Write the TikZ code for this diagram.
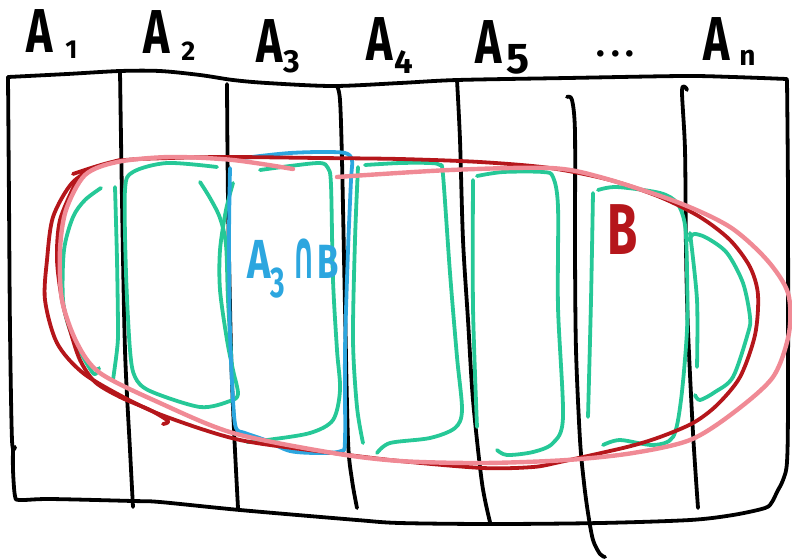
\documentclass[tikz,border=0pt]{standalone}
\usepackage{fontspec}
\setmainfont{Fira Sans}
\newfontfamily\djv{DejaVu Sans}
\usepackage{graphicx}
\definecolor{grn}{HTML}{26C897}
\definecolor{bred}{HTML}{B5161B}
\definecolor{pnk}{HTML}{F08A95}
\definecolor{blu}{HTML}{2CA6DF}
\newcommand\bigA{\scalebox{0.72}[1]{\fontsize{62}{62}\selectfont\bfseries A}}
\newcommand\subtxt[2]{{\fontsize{#1}{#1}\selectfont\bfseries #2}}
\tikzset{
  ink/.style={line width=3.8pt, line cap=round, line join=round},
  blk/.style={ink, draw=black},
  gstroke/.style={ink, draw=grn},
  rstroke/.style={ink, draw=bred},
  pstroke/.style={ink, line width=4.4pt, draw=pnk},
  bstroke/.style={ink, draw=blu},
  lab/.style={inner sep=0pt, outer sep=0pt, anchor=base west, text=black},
}
\begin{document}
\begin{tikzpicture}[x=1pt,y=-1pt]
\useasboundingbox (0,0) rectangle (792,558);
% ---- outer frame
\draw[blk] plot[smooth] coordinates {(8,77) (67,74) (120,71) (160,71) (200,75) (233,80) (267,83) (333,86) (400,83) (457,80) (567,78) (683,76) (733,77) (787,79)};
\draw[blk] plot[smooth] coordinates {(787,80) (788,200) (788,400) (787,462) (783,480) (777,492) (772,502) (765,508) (733,515) (690,520) (600,523) (493,524) (400,523) (357,520) (240,510) (160,502) (133,501) (50,499) (20,500) (15,496) (13,470) (13,447)};
\draw[blk] plot[smooth] coordinates {(8,77) (9,200) (10,330) (12,440) (15,447)};
% ---- column dividers
\draw[blk] plot[smooth] coordinates {(120,71) (122,200) (125,350) (130,450) (133,507)};
\draw[blk] plot[smooth] coordinates {(227,84) (228,200) (231,350) (234,430) (238,508)};
\draw[blk] plot[smooth] coordinates {(337,86) (340,100) (342,160) (345,307) (348,440) (352,480) (357,508)};
\draw[blk] plot[smooth] coordinates {(457,80) (460,140) (463,240) (468,320) (473,400) (482,483) (490,522)};
\draw[blk] plot[smooth] coordinates {(567,97) (572,100) (575,133) (575,250) (576,350) (580,440) (584,483) (588,513) (593,540) (600,554) (605,557)};
\draw[blk] plot[smooth] coordinates {(687,90) (685,87) (682,92) (685,150) (686,250) (688,330) (693,433) (698,508)};
% ---- labels
\node[lab] (la1) at (26,52) {\bigA\hspace{13pt}\raisebox{-6pt}{\subtxt{26}{1}}};
\node[lab] (la2) at (143,53) {\bigA\hspace{12pt}\raisebox{-7pt}{\subtxt{27}{2}}};
\node[lab] (la3) at (256,62) {\bigA\hspace{1pt}\raisebox{-10pt}{\subtxt{32}{3}}};
\node[lab] (la4) at (366,60) {\bigA\hspace{2pt}\raisebox{-13pt}{\subtxt{33}{4}}};
\node[lab] (la5) at (475,63) {\bigA\hspace{5pt}\raisebox{-10pt}{\subtxt{43}{5}}};
\node[lab] (ldots) at (596,56) {\subtxt{36}{.\hspace{7pt}.\hspace{5pt}.}};
\node[lab] (lan) at (703,60) {\bigA\hspace{10pt}\raisebox{-5pt}{\subtxt{28}{n}}};
% ---- green regions
\draw[gstroke] plot[smooth] coordinates {(101,188) (85,200) (73,217) (64,250) (63,300) (70,330) (82,355) (94,374) (99,368)};
\draw[gstroke] plot[smooth] coordinates {(115,187) (117,260) (118,330) (117,350) (113,380)};
\draw[gstroke] plot[smooth] coordinates {(217,167) (167,163) (133,172) (125,190) (126,273) (130,350) (135,377) (150,391) (200,407) (230,401) (238,394) (233,370) (227,340) (220,290) (220,250) (226,210) (233,183)};
\draw[gstroke] plot[smooth] coordinates {(200,182) (210,198) (220,218) (226,245) (228,300) (232,370)};
\draw[gstroke] plot[smooth] coordinates {(260,170) (290,166) (320,163) (328,168) (331,185) (333,280) (337,350) (340,390) (333,420) (310,433) (267,440) (247,442)};
\draw[gstroke] plot[smooth] coordinates {(358,167) (355,240) (353,340) (357,407) (363,443)};
\draw[gstroke] plot[smooth] coordinates {(365,165) (400,163) (430,163) (440,165) (443,175) (450,273) (457,357) (462,410) (455,428) (430,438) (390,443) (377,453)};
\draw[gstroke] plot[smooth] coordinates {(473,180) (473,307) (477,427)};
\draw[gstroke] plot[smooth] coordinates {(477,176) (503,172) (543,172) (553,177) (558,207) (558,307) (563,417) (553,443) (533,452) (507,455) (497,450)};
\draw[gstroke] plot[smooth] coordinates {(593,193) (591,300) (588,417)};
\draw[gstroke] plot[smooth] coordinates {(598,190) (617,187) (660,193) (677,203) (685,225) (687,270) (687,330) (681,400) (673,437) (653,445) (620,440) (603,445)};
\draw[gstroke] plot[smooth] coordinates {(690,233) (697,300) (697,367)};
\draw[gstroke] plot[smooth] coordinates {(689,240) (694,234) (707,238) (727,253) (743,283) (750,317) (748,333) (733,377) (715,392) (700,400) (695,395)};
% ---- blue A3 cap B
\draw[bstroke] plot[smooth] coordinates {(229,160) (260,156) (290,153) (320,152) (345,153) (352,160) (351,180) (348,250) (345,350) (345,440) (341,451) (320,453) (290,451) (265,440) (245,433) (236,428) (233,400) (230,333) (229,240) (230,168)};
\node[lab, text=blu] (lab3b) at (247,278) {\scalebox{0.72}[1]{\subtxt{55}{A}}\raisebox{-19pt}{\scalebox{0.65}[1]{\subtxt{43}{3}}}\hspace{8pt}\scalebox{0.75}[1.8]{{\fontsize{38}{38}\selectfont\bfseries\djv ∩}}\hspace{1pt}\scalebox{0.72}[1]{{\fontsize{48}{48}\selectfont\bfseries B}}};
% ---- red B
\draw[rstroke] plot[smooth] coordinates {(73,174) (117,161) (170,158) (230,157) (320,158) (400,159) (480,162) (550,168) (610,180) (660,197) (700,217) (730,240) (750,267) (758,295) (755,335) (740,377) (717,405) (693,423) (660,437) (627,447) (560,462) (533,467) (483,468) (400,461) (333,453) (240,440) (167,417) (127,399) (83,373) (57,343) (45,300) (47,260) (53,217) (72,183) (97,167) (120,160)};
\draw[rstroke] plot[smooth] coordinates {(77,180) (60,220) (57,260) (62,300) (70,330) (80,360) (95,382) (120,397) (150,410) (168,421) (163,424)};
\node[lab, text=bred] (lbr) at (607,254) {\scalebox{0.68}[1]{\subtxt{72}{B}}};
% ---- pink B
\draw[pstroke] plot[smooth] coordinates {(293,169) (233,160) (170,157) (117,162) (85,175) (66,210) (60,250) (62,300) (77,343) (100,373) (160,403) (233,433) (333,453) (400,461) (483,463) (567,460) (633,453) (690,440) (733,413) (773,377) (789,333) (788,293) (767,260) (730,227) (677,202) (600,177) (550,168) (450,170) (337,177)};
\end{tikzpicture}
\end{document}
